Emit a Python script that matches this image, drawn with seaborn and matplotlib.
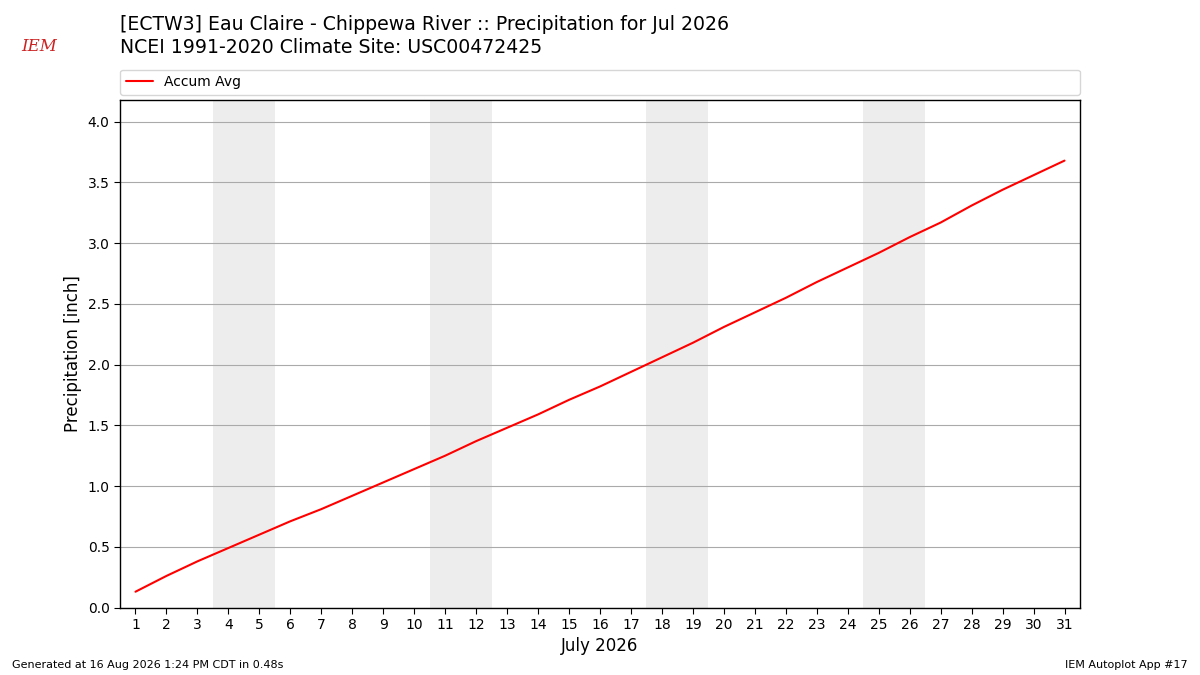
import matplotlib
matplotlib.use('Agg')
import matplotlib.pyplot as plt
import pandas as pd
import seaborn as sns

# Average accumulated precipitation, July days 1..31
days = list(range(1, 32))
accum_avg = [0.13, 0.26, 0.38, 0.49, 0.60, 0.71, 0.81, 0.92, 1.03, 1.14,
             1.25, 1.37, 1.48, 1.59, 1.71, 1.82, 1.94, 2.06, 2.18, 2.31,
             2.43, 2.55, 2.68, 2.80, 2.92, 3.05, 3.17, 3.31, 3.44, 3.56,
             3.68]
weekends = [(4, 5), (11, 12), (18, 19), (25, 26)]

title_lines = ["[ECTW3] Eau Claire - Chippewa River :: Precipitation for Jul 2026",
               "NCEI 1991-2020 Climate Site: USC00472425"]

df = pd.DataFrame({'day': days, 'precip': accum_avg})

sns.set_style('white')
plt.rcParams['font.family'] = ['DejaVu Sans']
plt.rcParams['text.color'] = 'black'
plt.rcParams['axes.labelcolor'] = 'black'
plt.rcParams['xtick.color'] = 'black'
plt.rcParams['ytick.color'] = 'black'

fig = plt.figure(figsize=(12, 6.75), dpi=100)
ax = fig.add_axes([0.1, 0.1, 0.8, 0.752])

# weekend shading
for start, end in weekends:
    ax.axvspan(start - 0.5, end + 0.5, color='#ededed', zorder=0, lw=0)

sns.lineplot(data=df, x='day', y='precip', color='red', lw=1.5,
             label='Accum Avg', ax=ax, zorder=3)

ax.set_xlim(0.5, 31.5)
ax.set_ylim(0, 4.18)
ax.set_xticks(days)
ax.set_yticks([0, 0.5, 1.0, 1.5, 2.0, 2.5, 3.0, 3.5, 4.0])
ax.set_yticklabels([f"{v:.1f}" for v in ax.get_yticks()])
ax.yaxis.grid(True, color='#aaaaaa', lw=0.8, zorder=1)
ax.xaxis.grid(False)
ax.set_axisbelow(True)
ax.tick_params(axis='both', which='major', labelsize=10, length=4, direction='out',
               bottom=True, left=True, color='black')
for s in ax.spines.values():
    s.set_color('black')
    s.set_linewidth(1)
ax.set_xlabel('July 2026', fontsize=12)
ax.set_ylabel('Precipitation [inch]', fontsize=12)

ax.legend(loc='lower left', bbox_to_anchor=(0, 1.01, 1, 0.05), mode='expand',
          ncol=1, fontsize=10, frameon=True, borderaxespad=0)

fig.text(0.1, 0.95, title_lines[0], fontsize=13.6, va='bottom')
fig.text(0.1, 0.915, title_lines[1], fontsize=13.6, va='bottom')

# logo stand-in
fig.text(0.018, 0.925, 'IEM', fontsize=12, color='#cc2222', style='italic',
         family='DejaVu Serif')

fig.text(0.01, 0.01, 'Generated at 16 Aug 2026 1:24 PM CDT in 0.48s', fontsize=8)
fig.text(0.99, 0.01, 'IEM Autoplot App #17', fontsize=8, ha='right')

fig.savefig('out.png', dpi=100)
